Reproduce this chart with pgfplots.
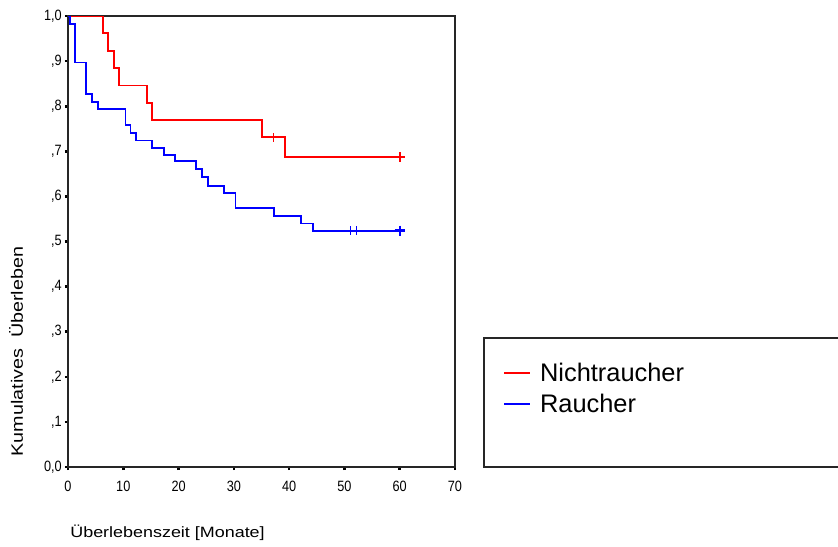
\documentclass[border=0pt]{standalone}
\usepackage{fontspec}
\setmainfont{Liberation Sans}
\newfontfamily\spss[FakeStretch=1.2]{Liberation Sans}
\newfontfamily\spssnarrow[FakeStretch=0.85]{Liberation Sans}
\usepackage{pgfplots}
\pgfplotsset{compat=1.18}

\begin{document}
\begin{tikzpicture}
\begin{axis}[
  at={(68bp,-467bp)}, anchor=south west,
  scale only axis, width=387bp, height=451bp,
  xmin=0, xmax=70, ymin=0, ymax=1,
  xtick={0,10,20,30,40,50,60,70},
  xticklabels={0,10,20,30,40,50,60,70},
  ytick={0,0.1,0.2,0.3,0.4,0.5,0.6,0.7,0.8,0.9,1},
  yticklabels={{0,0},{,1},{,2},{,3},{,4},{,5},{,6},{,7},{,8},{,9},{1,0}},
  tick pos=left, tick align=outside,
  major tick length=3bp,
  tick style={line width=2.6bp, black},
  axis line style={line width=1.4bp, black!85},
  xticklabel style={font=\spssnarrow\fontsize{15}{16}\selectfont, inner sep=0pt, yshift=-11bp},
  yticklabel style={font=\spssnarrow\fontsize{15}{16}\selectfont, inner sep=0pt, xshift=-3bp},
  xlabel={Überlebenszeit [Monate]},
  ylabel={Kumulatives\ \ Überleben},
  every axis x label/.style={at={(axis description cs:-0.003,-0.1552)},
    anchor=base west, font=\spss\fontsize{15}{16}\selectfont},
  every axis y label/.style={at={(axis description cs:-0.1163,0.2561)},
    rotate=90, anchor=base, font=\spss\fontsize{16.5}{17}\selectfont},
  legend style={at={(axis description cs:1.1240,0.2313)}, anchor=north west,
    draw=none, fill=none, inner sep=0pt, row sep=11.4bp, column sep=9bp,
    nodes={inner sep=0pt}, font=\fontsize{25.5}{27}\selectfont},
  legend cell align=left,
  legend image code/.code={\draw[#1] (0bp,0bp) -- (26bp,0bp);},
]
% Nichtraucher
\addplot[red, line width=1.9bp, const plot] coordinates {
  (0,1) (6.3,0.962) (7.3,0.923) (8.3,0.885) (9.2,0.846) (14.3,0.808)
  (15.2,0.769) (35.1,0.731) (39.2,0.687) (60,0.687)};
\addlegendentry{Nichtraucher}
% Raucher
\addplot[blue, line width=1.9bp, const plot] coordinates {
  (0,1) (0.3,0.983) (1.2,0.897) (3.3,0.828) (4.3,0.810) (5.4,0.793)
  (10.4,0.759) (11.3,0.741) (12.3,0.724) (15.2,0.707) (17.3,0.692)
  (19.3,0.678) (23.2,0.661) (24.3,0.643) (25.3,0.624) (28.2,0.608)
  (30.3,0.575) (37.2,0.557) (42.2,0.540) (44.3,0.524) (60,0.524)};
\addlegendentry{Raucher}
% censored cases
\addplot[red, only marks, mark=|, mark size=4.5bp, line width=1.5bp, forget plot]
  coordinates {(37.2,0.731)};
\addplot[red, only marks, mark=+, mark size=5bp, line width=2.4bp, forget plot]
  coordinates {(60,0.687)};
\addplot[blue, only marks, mark=|, mark size=4.5bp, line width=1.5bp, forget plot]
  coordinates {(51.1,0.524) (52.2,0.524)};
\addplot[blue, only marks, mark=+, mark size=5bp, line width=2.4bp, forget plot]
  coordinates {(60,0.524)};
\end{axis}
% legend frame, runs off the right edge as in the original
\draw[line width=1.6bp, black!85] (484bp,-338bp) rectangle (860bp,-467bp);
\pgfresetboundingbox
\path[use as bounding box] (0bp,0bp) rectangle (838bp,-547bp);
\end{tikzpicture}
\end{document}
